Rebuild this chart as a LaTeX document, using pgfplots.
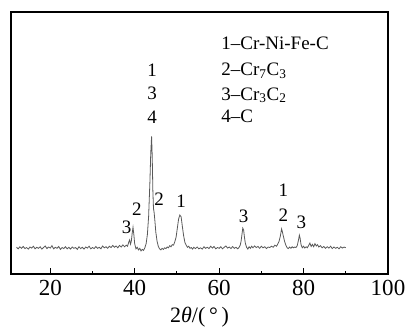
\documentclass[border=0pt]{standalone}
\usepackage{pgfplots}
\pgfplotsset{compat=1.18}
\usepackage{fontspec}
\setmainfont{Liberation Serif}
\begin{document}
\begin{tikzpicture}
\begin{axis}[
  name=ax,
  scale only axis,
  width=377pt, height=262pt,
  xmin=10.7, xmax=100, ymin=0, ymax=100,
  axis line style={line width=1.1pt},
  xtick={20,40,60,80,100},
  minor xtick={30,50,70,90},
  ytick=\empty,
  xtick pos=bottom,
  tick align=inside,
  major tick length=6pt,
  minor tick length=3pt,
  tick style={line width=0.9pt,black},
  /pgf/number format/assume math mode=true,
  ticklabel style={font=\fontsize{23}{26}\selectfont},
  xticklabel style={yshift=-2.5pt},
  xlabel={2\textit{θ}/(\,°\,)},
  xlabel style={font=\fontsize{22}{25}\selectfont, at={(axis description cs:0.5,0)}, anchor=center, yshift=-43pt},
  clip=false,
]
\addplot[color=black!65, line width=0.8pt] coordinates {
(12.0,10.2)(12.4,9.6)(12.8,10.4)(13.2,9.8)(13.6,10.5)(14.0,9.7)(14.4,10.1)(14.8,9.5)(15.2,10.3)(15.6,9.9)
(16.0,10.6)(16.4,9.6)(16.8,10.2)(17.2,9.8)(17.6,10.4)(18.0,9.5)(18.4,10.1)(18.8,10.7)(19.2,9.7)(19.6,10.3)
(20.0,9.9)(20.4,10.8)(20.8,9.6)(21.2,10.2)(21.6,9.8)(22.0,10.5)(22.4,9.4)(22.8,10.1)(23.2,9.7)(23.6,10.4)
(24.0,9.6)(24.4,10.2)(24.8,9.5)(25.2,10.3)(25.6,9.8)(26.0,10.1)(26.4,9.4)(26.8,10.4)(27.2,9.7)(27.6,10.2)
(28.0,9.5)(28.4,10.3)(28.8,9.9)(29.2,10.6)(29.6,9.6)(30.0,10.1)(30.4,9.7)(30.8,10.5)(31.2,9.8)(31.6,10.2)
(32.0,9.6)(32.4,10.7)(32.8,10.0)(33.2,10.4)(33.6,9.8)(34.0,10.6)(34.4,10.1)(34.8,10.9)(35.2,10.2)(35.6,10.7)
(36.0,10.0)(36.4,10.9)(36.8,10.3)(37.2,11.1)(37.6,10.4)(38.0,11.0)
(38.3,10.6)(38.6,12.2)(38.8,13.0)(39.0,11.4)(39.2,12.5)(39.4,15.5)(39.6,17.8)(39.8,15.0)(40.0,11.5)(40.3,9.6)
(40.6,10.2)(40.9,9.2)(41.2,9.8)(41.5,8.8)(41.8,9.4)(42.1,9.0)(42.4,10.0)(42.7,11.5)(43.0,15.0)(43.3,22.0)
(43.6,35.0)(43.8,46.0)(44.0,52.5)(44.15,45.0)(44.3,32.0)(44.45,25.0)(44.6,23.5)(44.8,20.0)(45.0,16.0)(45.3,12.5)
(45.6,10.5)(45.9,9.6)(46.2,9.2)(46.5,9.8)(46.8,9.4)(47.1,10.0)(47.4,9.7)(47.7,10.3)(48.0,10.0)(48.3,10.8)
(48.6,10.4)(48.9,11.2)(49.2,11.0)(49.5,12.3)(49.8,14.0)(50.1,17.5)(50.4,21.0)(50.7,22.5)(51.0,21.8)(51.3,18.0)
(51.6,14.5)(51.9,12.0)(52.2,11.0)(52.5,10.2)(52.8,10.6)(53.1,9.8)(53.4,10.1)(53.7,9.5)(54.0,10.2)(54.4,9.7)
(54.8,10.3)(55.2,9.6)(55.6,10.0)(56.0,9.5)(56.4,10.4)(56.8,9.8)(57.2,10.2)(57.6,9.7)(58.0,10.6)(58.4,9.9)
(58.8,10.5)(59.2,9.6)(59.6,10.1)(60.0,9.8)(60.4,10.4)(60.8,9.6)(61.2,10.2)(61.6,10.7)(62.0,9.9)(62.4,10.3)
(62.8,9.7)(63.2,10.5)(63.6,9.8)(64.0,10.2)(64.4,9.6)(64.7,10.1)(65.0,11.0)(65.2,12.5)(65.4,15.0)(65.6,17.5)
(65.8,16.8)(66.0,14.0)(66.2,11.8)(66.5,10.2)(66.8,9.5)(67.1,10.4)(67.4,9.8)(67.7,10.6)(68.0,10.0)(68.4,10.7)
(68.8,10.1)(69.2,10.5)(69.6,9.8)(70.0,10.6)(70.4,10.0)(70.8,10.4)(71.2,9.7)(71.6,10.3)(72.0,10.1)(72.4,10.6)
(72.8,10.2)(73.2,11.0)(73.6,10.6)(73.9,11.5)(74.2,12.5)(74.5,14.5)(74.8,17.2)(75.0,16.0)(75.2,14.5)(75.5,12.5)
(75.8,11.0)(76.1,10.0)(76.4,9.7)(76.7,10.3)(77.0,9.8)(77.3,10.4)(77.6,10.0)(77.9,10.3)(78.2,10.1)(78.5,10.8)
(78.8,13.0)(79.0,14.8)(79.2,13.5)(79.4,11.2)(79.7,10.0)(80.0,10.6)(80.3,9.9)(80.6,10.4)(80.9,10.0)(81.2,10.9)
(81.5,11.8)(81.8,10.5)(82.1,11.3)(82.4,10.4)(82.7,11.6)(83.0,10.7)(83.3,11.2)(83.6,10.3)(84.0,10.8)(84.4,10.0)
(84.8,10.5)(85.2,9.8)(85.6,10.4)(86.0,9.9)(86.4,10.6)(86.8,9.7)(87.2,10.3)(87.6,9.8)(88.0,10.2)(88.4,9.6)
(88.8,10.4)(89.2,9.9)(89.6,10.3)(90.0,10.0)
};
\begin{scope}[every node/.style={font=\fontsize{19}{22}\selectfont, inner sep=0pt}]
\node at (axis cs:38.1,17.7) {3};
\node at (axis cs:40.5,24.8) {2};
\node at (axis cs:44.1,77.6) {1};
\node at (axis cs:44.1,69.0) {3};
\node at (axis cs:44.1,60.0) {4};
\node at (axis cs:45.8,28.6) {2};
\node at (axis cs:51.0,27.9) {1};
\node at (axis cs:65.8,21.9) {3};
\node at (axis cs:75.2,31.8) {1};
\node at (axis cs:75.2,22.5) {2};
\node at (axis cs:79.5,19.6) {3};
\node[anchor=base west] at (axis cs:60.5,85.5) {1--Cr-Ni-Fe-C};
\node[anchor=base west] at (axis cs:60.5,75.6) {2--Cr\textsubscript{7}C\textsubscript{3}};
\node[anchor=base west] at (axis cs:60.5,66.4) {3--Cr\textsubscript{3}C\textsubscript{2}};
\node[anchor=base west] at (axis cs:60.5,57.7) {4--C};
\end{scope}
\end{axis}
\pgfresetboundingbox
\path ([shift={(-11pt,-54pt)}]ax.south west) rectangle ([shift={(21pt,12pt)}]ax.north east);
\end{tikzpicture}
\end{document}
